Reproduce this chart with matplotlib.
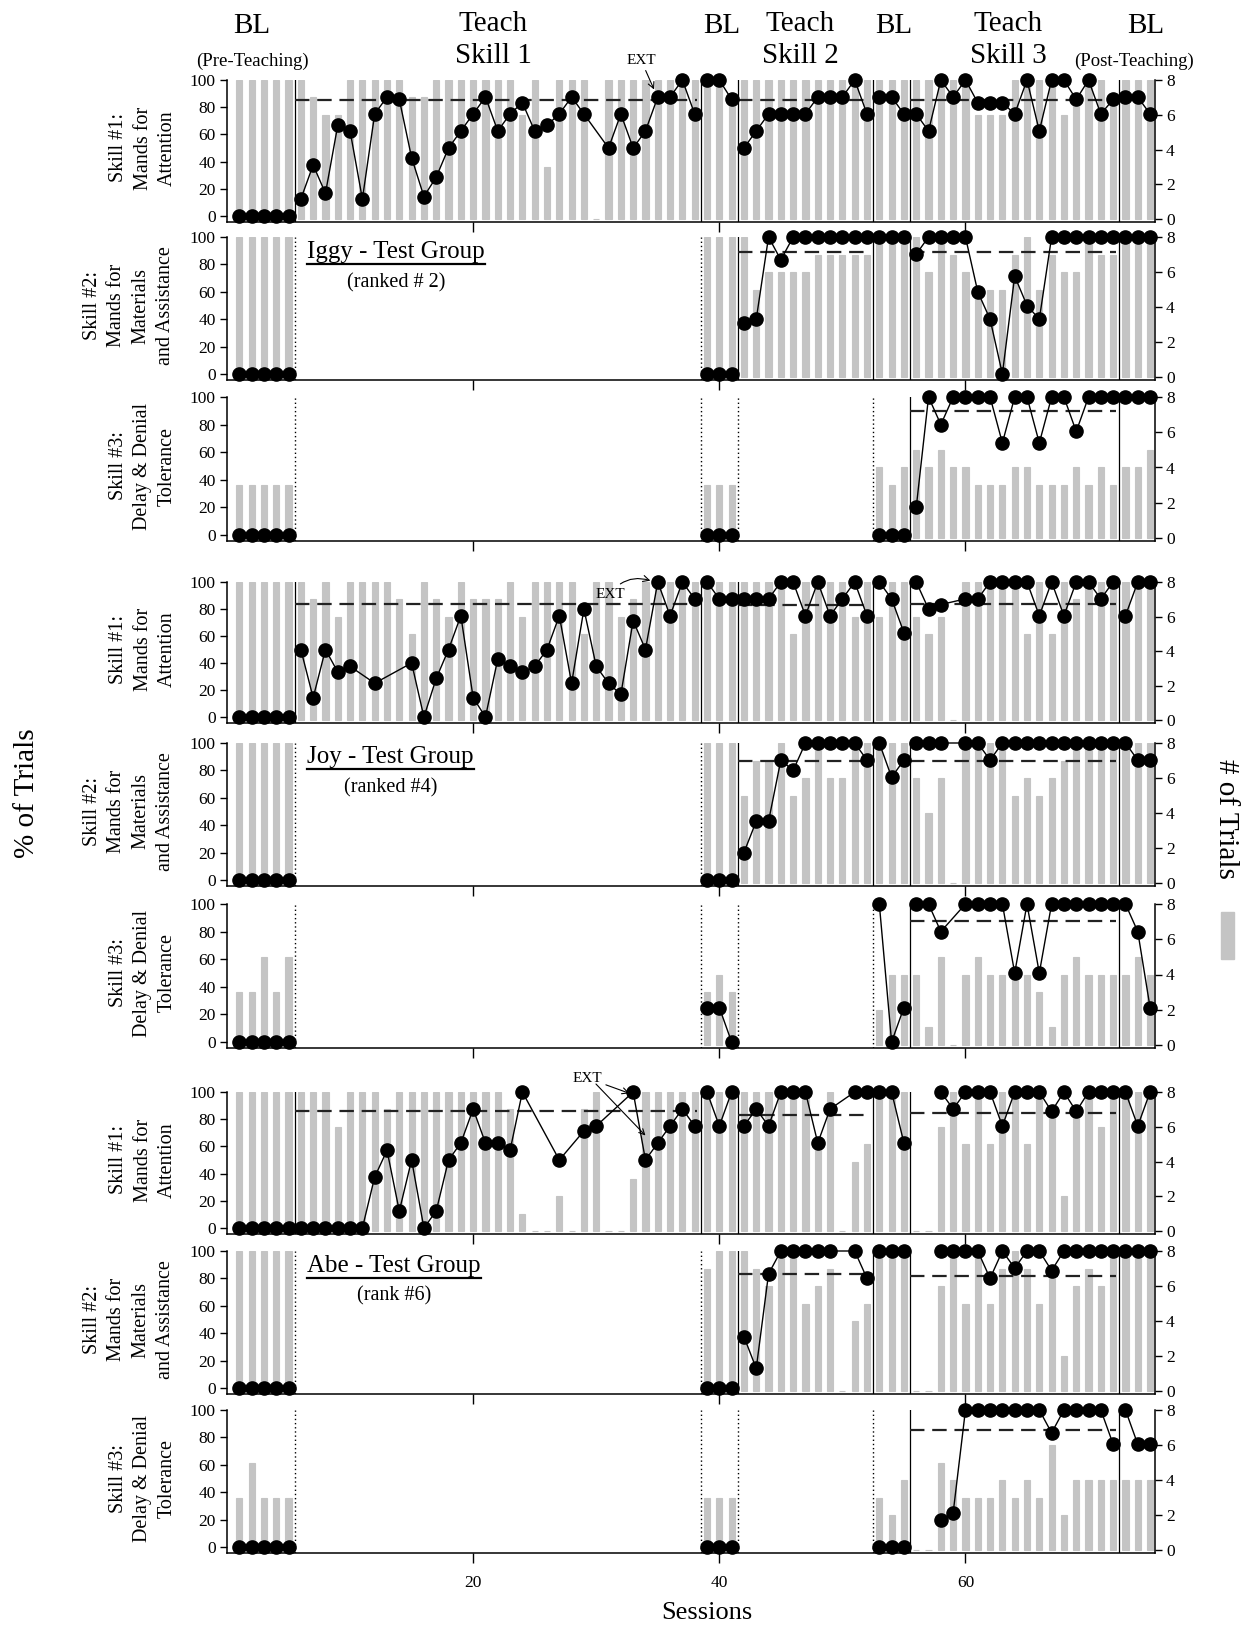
import matplotlib
matplotlib.use("Agg")
import matplotlib.pyplot as plt
from matplotlib.patches import Rectangle
from matplotlib.lines import Line2D
import numpy as np

plt.rcParams['font.family'] = ['Liberation Serif', 'DejaVu Serif']

N = None
sessions = list(range(1, 76))
# session ranges of the seven phases: BL, Teach 1, BL, Teach 2, BL, Teach 3, BL
phases = [(1, 5), (6, 38), (39, 41), (42, 52), (53, 55), (56, 72), (73, 75)]
phase_breaks = [5.5, 38.5, 41.5, 52.5, 55.5, 72.5]

# ---------------- Iggy ----------------
iggy_attention_pct = ([0, 0, 0, 0, 0] +
    [12.5, 37.5, 16.7, 66.7, 62.5, 12.5, 75, 87.5, 85.7, 42.9, 14.3, 28.6, 50, 62.5, 75, 87.5, 62.5,
     75, 83.3, 62.5, 66.7, 75, 87.5, 75, N, 50, 75, 50, 62.5, 87.5, 87.5, 100, 75] +
    [100, 100, 85.7] +
    [50, 62.5, 75, 75, 75, 75, 87.5, 87.5, 87.5, 100, 75] +
    [87.5, 87.5, 75] +
    [75, 62.5, 100, 87.5, 100, 83.3, 83.3, 83.3, 75, 100, 62.5, 100, 100, 85.7, 100, 75, 85.7] +
    [87.5, 87.5, 75])
iggy_attention_trials = ([8, 8, 8, 8, 8] +
    [8, 7, 6, 6, 8, 8, 8, 8, 8, 7, 7, 8, 8, 8, 8, 8, 8, 8, 6, 8, 3, 8, 8, 8, 0, 8, 8, 8, 8, 8, 8, 8, 8] +
    [8, 8, 7] +
    [8, 8, 8, 8, 8, 8, 8, 8, 8, 8, 8] +
    [8, 8, 8] +
    [8, 8, 8, 8, 8, 6, 6, 6, 8, 8, 8, 8, 6, 7, 8, 8, 7] +
    [8, 8, 8])

iggy_materials_pct = ([0, 0, 0, 0, 0] + [N] * 33 + [0, 0, 0] +
    [37.5, 40, 100, 83.3, 100, 100, 100, 100, 100, 100, 100] +
    [100, 100, 100] +
    [87.5, 100, 100, 100, 100, 60, 40, 0, 71.4, 50, 40, 100, 100, 100, 100, 100, 100] +
    [100, 100, 100])
iggy_materials_trials = ([8, 8, 8, 8, 8] + [N] * 33 + [8, 8, 8] +
    [8, 5, 6, 6, 6, 6, 7, 7, 7, 7, 7] +
    [8, 8, 8] +
    [8, 6, 8, 7, 6, 5, 5, 5, 7, 8, 5, 7, 6, 6, 8, 7, 7] +
    [8, 8, 8])

iggy_tolerance_pct = ([0, 0, 0, 0, 0] + [N] * 33 + [0, 0, 0] + [N] * 11 + [0, 0, 0] +
    [20, 100, 80, 100, 100, 100, 100, 66.7, 100, 100, 66.7, 100, 100, 75, 100, 100, 100] +
    [100, 100, 100])
iggy_tolerance_trials = ([3, 3, 3, 3, 3] + [N] * 33 + [3, 3, 3] + [N] * 11 + [4, 3, 4] +
    [5, 4, 5, 4, 4, 3, 3, 3, 4, 4, 3, 3, 3, 4, 3, 4, 3] +
    [4, 4, 5])

# ---------------- Joy ----------------
joy_attention_pct = ([0, 0, 0, 0, 0] +
    [50, 14.3, 50, 33.3, 37.5, N, 25, N, N, 40, 0, 28.6, 50, 75, 14.3, 0, 42.9, 37.5, 33.3, 37.5,
     50, 75, 25, 80, 37.5, 25, 16.7, 71.4, 50, 100, 75, 100, 87.5] +
    [100, 87.5, 87.5] +
    [87.5, 87.5, 87.5, 100, 100, 75, 100, 75, 87.5, 100, 75] +
    [100, 87.5, 62.5] +
    [100, 80, 83.3, N, 87.5, 87.5, 100, 100, 100, 100, 75, 100, 75, 100, 100, 87.5, 100] +
    [75, 100, 100])
joy_attention_trials = ([8, 8, 8, 8, 8] +
    [8, 7, 8, 6, 8, 8, 8, 8, 7, 5, 8, 7, 6, 8, 7, 7, 7, 8, 6, 8, 8, 8, 8, 5, 8, 8, 6, 7, 8, 8, 8, 8, 8] +
    [8, 8, 8] +
    [8, 8, 8, 8, 5, 8, 8, 8, 8, 6, 8] +
    [6, 8, 8] +
    [6, 5, 6, 0, 8, 8, 8, 8, 8, 5, 8, 5, 8, 7, 8, 8, 8] +
    [8, 8, 8])

joy_materials_pct = ([0, 0, 0, 0, 0] + [N] * 33 + [0, 0, 0] +
    [20, 42.9, 42.9, 87.5, 80, 100, 100, 100, 100, 100, 87.5] +
    [100, 75, 87.5] +
    [100, 100, 100, N, 100, 100, 87.5, 100, 100, 100, 100, 100, 100, 100, 100, 100, 100] +
    [100, 87.5, 87.5])
joy_materials_trials = ([8, 8, 8, 8, 8] + [N] * 33 + [8, 8, 8] +
    [5, 7, 7, 8, 5, 6, 8, 6, 6, 8, 8] +
    [8, 8, 8] +
    [6, 4, 6, 0, 8, 8, 8, 8, 5, 6, 5, 6, 7, 8, 8, 8, 8] +
    [8, 8, 8])

joy_tolerance_pct = ([0, 0, 0, 0, 0] + [N] * 33 + [25, 25, 0] + [N] * 11 + [100, 0, 25] +
    [100, 100, 80, N, 100, 100, 100, 100, 50, 100, 50, 100, 100, 100, 100, 100, 100] +
    [100, 80, 25])
joy_tolerance_trials = ([3, 3, 5, 3, 5] + [N] * 33 + [3, 4, 3] + [N] * 11 + [2, 4, 4] +
    [4, 1, 5, 0, 4, 5, 4, 4, 4, 4, 3, 1, 4, 5, 4, 4, 4] +
    [4, 5, 4])

# ---------------- Abe ----------------
abe_attention_pct = ([0, 0, 0, 0, 0] +
    [0, 0, 0, 0, 0, 0, 37.5, 57.1, 12.5, 50, 0, 12.5, 50, 62.5, 87.5, 62.5, 62.5, 57.1, 100, N, N,
     50, N, 71.4, 75, N, N, 100, 50, 62.5, 75, 87.5, 75] +
    [100, 75, 100] +
    [75, 87.5, 75, 100, 100, 100, 62.5, 87.5, N, 100, 100] +
    [100, 100, 62.5] +
    [N, N, 100, 87.5, 100, 100, 100, 75, 100, 100, 100, 85.7, 100, 85.7, 100, 100, 100] +
    [100, 75, 100])
abe_attention_trials = ([8, 8, 8, 8, 8] +
    [8, 8, 8, 6, 8, 8, 8, 7, 8, 8, 8, 8, 8, 8, 8, 8, 8, 7, 1, 0, 0, 2, 0, 7, 8, 0, 0, 3, 8, 8, 8, 8, 8] +
    [8, 8, 8] +
    [8, 8, 8, 8, 8, 8, 5, 8, 0, 4, 5] +
    [8, 8, 8] +
    [0, 0, 6, 8, 5, 8, 5, 8, 8, 5, 8, 7, 2, 7, 8, 6, 8] +
    [8, 8, 8])

abe_materials_pct = ([0, 0, 0, 0, 0] + [N] * 33 + [0, 0, 0] +
    [37.5, 14.3, 83.3, 100, 100, 100, 100, 100, N, 100, 80] +
    [100, 100, 100] +
    [N, N, 100, 100, 100, 100, 80, 100, 87.5, 100, 100, 85.7, 100, 100, 100, 100, 100] +
    [100, 100, 100])
abe_materials_trials = ([8, 8, 8, 8, 8] + [N] * 33 + [7, 8, 8] +
    [8, 7, 6, 8, 8, 5, 6, 7, 0, 4, 5] +
    [8, 8, 8] +
    [0, 0, 6, 8, 5, 8, 5, 7, 8, 7, 5, 7, 2, 6, 7, 6, 8] +
    [8, 8, 8])

abe_tolerance_pct = ([0, 0, 0, 0, 0] + [N] * 33 + [0, 0, 0] + [N] * 11 + [0, 0, 0] +
    [N, N, 20, 25, 100, 100, 100, 100, 100, 100, 100, 83.3, 100, 100, 100, 100, 75] +
    [100, 75, 75])
abe_tolerance_trials = ([3, 5, 3, 3, 3] + [N] * 33 + [3, 3, 3] + [N] * 11 + [3, 2, 4] +
    [0, 0, 5, 4, 3, 3, 3, 4, 3, 4, 3, 6, 2, 4, 4, 4, 4] +
    [4, 4, 4])

# dashed reference level in each teaching phase (Teach 1, Teach 2, Teach 3)
iggy_attention_ref = [85.6, 85.6, 85.6]
iggy_materials_ref = [N, 89, 89]
iggy_tolerance_ref = [N, N, 89.5]
joy_attention_ref = [84, 83, 84]
joy_materials_ref = [N, 87, 87]
joy_tolerance_ref = [N, N, 88]
abe_attention_ref = [85.8, 83, 84.5]
abe_materials_ref = [N, 83, 82]
abe_tolerance_ref = [N, N, 85.5]

skill_labels = ["Skill #1:\nMands for\nAttention",
                "Skill #2:\nMands for\nMaterials\nand Assistance",
                "Skill #3:\nDelay & Denial\nTolerance"]
pct_ticks = [0, 20, 40, 60, 80, 100]
trial_ticks = [0, 2, 4, 6, 8]
session_ticks = [20, 40, 60]

panels = [
    (iggy_attention_pct, iggy_attention_trials, iggy_attention_ref, 0),
    (iggy_materials_pct, iggy_materials_trials, iggy_materials_ref, 1),
    (iggy_tolerance_pct, iggy_tolerance_trials, iggy_tolerance_ref, 2),
    (joy_attention_pct, joy_attention_trials, joy_attention_ref, 0),
    (joy_materials_pct, joy_materials_trials, joy_materials_ref, 1),
    (joy_tolerance_pct, joy_tolerance_trials, joy_tolerance_ref, 2),
    (abe_attention_pct, abe_attention_trials, abe_attention_ref, 0),
    (abe_materials_pct, abe_materials_trials, abe_materials_ref, 1),
    (abe_tolerance_pct, abe_tolerance_trials, abe_tolerance_ref, 2),
]
for p, t, _, _ in panels:
    assert len(p) == 75 and len(t) == 75

# ---------------- layout ----------------
W, H = 1245, 1625
fig = plt.figure(figsize=(W / 100, H / 100), dpi=100)


def fx(px):
    return px / W


def fy(py):
    return 1 - py / H


BAR = '#c4c4c4'
X_LEFT, X_RIGHT = 227, 1155
rows = [(80, 216), (237, 374), (397, 535), (582, 717), (743, 880),
        (904, 1042), (1092, 1228), (1251, 1388), (1410, 1547)]
BELOW = 6  # px between the zero level and the bottom axis line

# which boundaries are drawn dotted (phases not yet taught for that skill)
dotted_by_skill = {0: [], 1: [5.5, 38.5], 2: [5.5, 38.5, 41.5, 52.5]}
teach_spans = [(5.5, 38.2), (41.5, 52.2), (55.5, 72.2)]

axes = []
for i, ((pct, trials, ref, skill), (y100, y0)) in enumerate(zip(panels, rows)):
    ybot = y0 + BELOW
    ax = fig.add_axes([fx(X_LEFT), fy(ybot), fx(X_RIGHT) - fx(X_LEFT), (ybot - y100) / H])
    axr = ax.twinx()
    px_per_unit = (y0 - y100) / 100.0
    ax.set_ylim(-BELOW / px_per_unit, 100)
    rpx = (y0 + 3 - y100) / 8.0
    axr.set_ylim(-(BELOW - 3) / rpx, 8)
    ax.set_xlim(0, 75.4)

    # number of trials as grey bars on the right-hand scale
    bx = [s for s, t in zip(sessions, trials) if t is not None]
    bh = [t for t in trials if t is not None]
    axr.bar(bx, bh, width=0.5, color=BAR, edgecolor=BAR, linewidth=0.8, zorder=1)

    ax.set_zorder(axr.get_zorder() + 1)
    ax.patch.set_visible(False)

    # phase change lines
    for b in phase_breaks:
        if b in dotted_by_skill[skill]:
            ax.axvline(b, color='k', lw=1.0, ls=(0, (1, 2)), zorder=2)
        else:
            ax.axvline(b, color='k', lw=0.9, zorder=2)

    # dashed reference level in teaching phases
    for (a, b), v in zip(teach_spans, ref):
        if v is not None:
            ax.plot([a, b], [v, v], color='#222222', lw=1.6, dashes=(6.5, 3.5), zorder=3)

    # percent of trials, connected within each phase
    for (s0, s1) in phases:
        xs = [s for s in sessions if s0 <= s <= s1 and pct[s - 1] is not None]
        ys = [pct[s - 1] for s in xs]
        if xs:
            ax.plot(xs, ys, '-', color='k', lw=1.0, marker='o', ms=9.5,
                    mfc='k', mec='k', clip_on=False, zorder=5)

    ax.set_yticks(pct_ticks)
    axr.set_yticks(trial_ticks)
    ax.set_xticks(session_ticks)
    for a in (ax, axr):
        a.spines['top'].set_visible(False)
        for sp in ('left', 'right', 'bottom'):
            a.spines[sp].set_linewidth(1.1)
    ax.spines['right'].set_visible(False)
    axr.spines['left'].set_visible(False)
    axr.spines['bottom'].set_visible(False)
    ax.tick_params(axis='y', direction='out', length=5, width=1.0, labelsize=12.5, pad=3)
    axr.tick_params(axis='y', direction='out', length=5, width=1.0, labelsize=12.5, pad=3)
    ax.tick_params(axis='x', direction='out', length=7, width=1.0, labelsize=12.5, pad=9)
    if i < len(panels) - 1:
        ax.tick_params(axis='x', labelbottom=False)

    # skill label to the left
    lab = skill_labels[skill]
    n_lines = lab.count('\n') + 1
    cx = 171 - (n_lines - 1) * 28 / 2.0
    fig.text(fx(cx), fy((y100 + y0) / 2), lab, rotation=90, ha='center', va='center',
             fontsize=14.5, multialignment='center', linespacing=1.38)
    axes.append(ax)

# ---------------- phase headings ----------------
head_fs = 21
for x, t in [(252, 'BL'), (722, 'BL'), (894, 'BL'), (1146, 'BL')]:
    fig.text(fx(x), fy(26), t, ha='center', va='center', fontsize=head_fs)
for x in (493, 800, 1008):
    fig.text(fx(x), fy(24), 'Teach', ha='center', va='center', fontsize=head_fs)
for x, t in [(493, 'Skill 1'), (800, 'Skill 2'), (1008, 'Skill 3')]:
    fig.text(fx(x), fy(56), t, ha='center', va='center', fontsize=head_fs)
fig.text(fx(252), fy(61), '(Pre-Teaching)', ha='center', va='center', fontsize=13.5)
fig.text(fx(1134), fy(61), '(Post-Teaching)', ha='center', va='center', fontsize=13.5)

# ---------------- participant names ----------------
names = [(252, 283, 'Iggy - Test Group', '(ranked # 2)'),
         (757, 788, 'Joy - Test Group', '(ranked #4)'),
         (1266, 1296, 'Abe - Test Group', '(rank #6)')]
fig.canvas.draw()
renderer = fig.canvas.get_renderer()
for yname, ysub, name, sub in names:
    t = fig.text(fx(307), fy(yname), name, ha='left', va='center', fontsize=18)
    bb = t.get_window_extent(renderer)
    fig.add_artist(Line2D([bb.x0 / W, bb.x1 / W], [(bb.y0 - 1) / H, (bb.y0 - 1) / H],
                          transform=fig.transFigure, color='k', lw=1.6))
    fig.text((bb.x0 + bb.x1) / 2 / W, fy(ysub), sub, ha='center', va='center', fontsize=14.5)

# ---------------- EXT notes ----------------
arrow = dict(arrowstyle='->', lw=0.8, color='k', shrinkA=1, shrinkB=0)
axes[0].annotate('EXT', xy=(34.7, 93), xycoords='data', xytext=(fx(641), fy(60)),
                 textcoords='figure fraction', ha='center', va='center', fontsize=11,
                 arrowprops=arrow, annotation_clip=False)
axes[3].annotate('EXT', xy=(34.4, 101), xycoords='data', xytext=(fx(610), fy(594)),
                 textcoords='figure fraction', ha='center', va='center', fontsize=11,
                 arrowprops=dict(arrow, connectionstyle='arc3,rad=-0.35'), annotation_clip=False)
axes[6].annotate('EXT', xy=(32.7, 99), xycoords='data', xytext=(fx(587), fy(1078)),
                 textcoords='figure fraction', ha='center', va='center', fontsize=11,
                 arrowprops=arrow, annotation_clip=False)
axes[6].annotate('', xy=(34.0, 68), xycoords='data', xytext=(fx(595), fy(1083)),
                 textcoords='figure fraction', arrowprops=arrow, annotation_clip=False)

# ---------------- axis titles ----------------
fig.text(fx(27), fy(793), '% of Trials', rotation=90, ha='center', va='center', fontsize=21)
fig.text(fx(1226), fy(819), '# of Trials', rotation=270, ha='center', va='center', fontsize=21)
fig.add_artist(Rectangle((fx(1221), fy(959)), 13 / W, 47 / H, transform=fig.transFigure,
                         color=BAR))
fig.text(fx(707), fy(1613), 'Sessions', ha='center', va='center', fontsize=19)

fig.savefig('out.png', dpi=100)
